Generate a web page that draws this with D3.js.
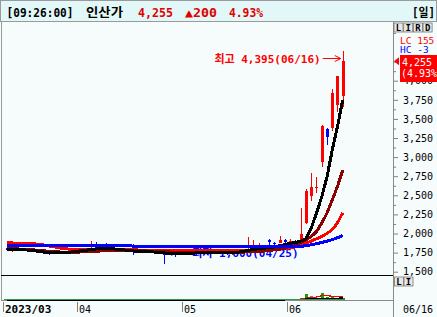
<!DOCTYPE html>
<html>
<head>
<meta charset="utf-8">
<script src="https://cdn.jsdelivr.net/npm/d3@7"></script>
<style>
  html, body { margin: 0; padding: 0; background: #fff; }
  svg { display: block; }
</style>
</head>
<body>
<div id="chart"></div>
<script>
// trading days shown (2023)
const dates = ["03/14","03/15","03/16","03/17","03/20","03/21","03/22","03/23","03/24","03/27","03/28","03/29","03/30","03/31",
  "04/03","04/04","04/05","04/06","04/07","04/10","04/11","04/12","04/13","04/14","04/17","04/18","04/19","04/20","04/21","04/24","04/25","04/26","04/27","04/28",
  "05/02","05/03","05/04","05/08","05/09","05/10","05/11","05/12","05/15","05/16","05/17","05/18","05/19","05/22","05/23","05/24","05/25","05/26","05/30","05/31",
  "06/01","06/02","06/05","06/07","06/08","06/09","06/12","06/13","06/14","06/15","06/16"];

const opens = [1815,1785,1800,1782,1788,1772,1768,1755,1742,1735,1752,1762,1755,1778,
  1790,1800,1808,1825,1800,1810,1795,1788,1780,1785,1790,1760,1768,1758,1752,1745,1740,1725,1748,1730,
  1742,1748,1745,1750,1755,1748,1752,1750,1745,1735,1748,1765,1778,1795,1805,1812,1920,1880,1876,1915,
  1890,1905,1890,2135,2495,2600,2940,3370,3380,3680,3800];
const highs = [1825,1812,1808,1795,1795,1785,1778,1765,1752,1758,1768,1772,1785,1798,
  1808,1815,1900,1885,1815,1880,1805,1798,1795,1798,1860,1775,1778,1770,1765,1760,1755,1752,1755,1748,
  1760,1762,1758,1765,1768,1760,1765,1762,1755,1752,1770,1785,1950,1915,1870,1835,1925,1895,1965,1930,
  1925,1915,2335,2580,2790,2740,3425,3380,3890,4060,4395];
const lows = [1785,1760,1772,1770,1765,1760,1748,1738,1725,1730,1745,1750,1752,1770,
  1782,1790,1800,1795,1788,1790,1780,1770,1765,1768,1715,1748,1752,1742,1738,1728,1600,1718,1690,1722,
  1735,1738,1735,1740,1742,1738,1745,1738,1725,1720,1742,1758,1772,1785,1795,1800,1840,1845,1870,1880,
  1875,1875,1880,2120,2420,2530,2875,3160,3340,3590,3650];
const closes = [1790,1805,1782,1788,1772,1768,1755,1742,1735,1752,1762,1755,1778,1790,
  1800,1808,1815,1800,1805,1795,1788,1780,1785,1775,1760,1768,1758,1752,1745,1740,1725,1748,1730,1742,
  1748,1745,1750,1755,1748,1752,1750,1745,1735,1748,1765,1778,1795,1805,1812,1820,1885,1860,1915,1895,
  1905,1890,1990,2560,2606,2615,3405,3265,3838,4055,4255];

// moving averages as drawn (5, 10, 20, 60 days)
const ma5 = [1795,1792,1790,1787,1783,1777,1768,1758,1752,1748,1750,1752,1756,1764,
  1772,1780,1790,1797,1802,1805,1800,1795,1788,1780,1772,1768,1765,1762,
  1758,1752,1745,1740,1738,1737,1740,1742,1745,1748,1750,1752,1750,1748,
  1745,1748,1755,1765,1780,1790,1800,1808,1815,1825,1840,1855,
  1872,1882,1900,1930,2070,2265,2480,2740,3090,3400,3750];
const ma10 = [1805,1802,1798,1794,1790,1786,1780,1774,1768,1762,1758,1756,1755,1756,
  1758,1761,1764,1768,1772,1776,1779,1781,1782,1781,1779,1776,1773,1770,
  1767,1764,1761,1758,1756,1754,1752,1751,1750,1750,1750,1751,1752,1753,
  1754,1755,1756,1757,1759,1762,1766,1771,1778,1786,1795,1805,
  1850,1860,1880,1915,1960,2025,2135,2265,2440,2615,2830];
const ma20 = [1878,1876,1874,1872,1870,1866,1860,1850,1838,1825,1812,1802,1795,1790,
  1787,1786,1786,1787,1788,1789,1790,1790,1789,1788,1786,1784,1782,1780,
  1779,1778,1777,1776,1775,1775,1774,1774,1773,1773,1772,1772,1772,1772,
  1772,1772,1773,1774,1775,1777,1779,1782,1786,1790,1796,1803,
  1812,1825,1845,1872,1900,1930,1960,2000,2050,2140,2270];
const ma60 = [1848,1848,1847,1847,1846,1846,1845,1845,1844,1844,1843,1843,1842,1842,
  1841,1841,1840,1840,1839,1839,1838,1838,1837,1837,1836,1836,1835,1835,
  1834,1834,1833,1833,1832,1832,1831,1831,1830,1830,1829,1829,1829,1828,
  1828,1828,1827,1827,1827,1826,1826,1826,1826,1826,1826,1826,
  1826,1828,1832,1840,1852,1866,1882,1900,1920,1945,1972];

// volume (thousand shares) and its averages
const volumes = [45,38,30,28,25,26,30,32,28,22,25,20,24,26,
  22,24,60,45,20,38,22,18,20,19,55,20,18,17,
  16,18,40,24,30,18,16,17,15,16,15,14,15,16,
  18,17,20,22,70,55,30,22,35,24,48,30,
  60,45,210,640,390,170,720,260,310,220,170];
const volMa5 = [40,38,36,34,33,30,28,28,29,27,26,25,24,23,
  23,23,30,33,34,36,37,30,24,22,27,27,26,21,
  20,18,22,23,26,26,25,21,19,16,16,16,15,15,
  16,16,17,19,29,37,39,40,42,37,32,32,
  39,41,79,197,269,291,426,436,370,336,336];
const volMa20 = [30,30,30,30,30,30,30,30,30,30,29,29,29,29,
  29,29,30,30,30,30,30,29,29,29,30,30,29,29,
  28,28,28,28,28,27,27,27,26,26,26,25,25,25,
  25,25,25,25,27,28,28,28,29,29,30,30,
  32,33,42,72,90,97,131,143,157,167,174];

const priceTicks = [1500,1750,2000,2250,2500,2750,3000,3250,3500,3750,4000];
const monthLabels = ["2023/03","04","05","06"];
const lcText = "LC 155", hcText = "HC -3";
const clockText = "[09:26:00]", stockName = "인산가", periodText = "[일]";

// ---------- layout ----------
const W = 437, H = 317;
const plot = { left: 2, right: 393, top: 22, bottom: 275 };
const volBox = { top: 276, bottom: 300 };
const emptySlots = 9;
const mono = "'DejaVu Sans Mono', 'Noto Sans CJK KR', monospace";
const fmt = d3.format(",");

const svg = d3.select("#chart").append("svg")
  .attr("width", W).attr("height", H)
  .style("font-family", mono);

svg.append("rect").attr("width", W).attr("height", H).attr("fill", "#f6fcfc");

// scales
const idx = d3.range(dates.length + emptySlots);
const x = d3.scaleBand().domain(idx).range([4.1, 4.1 + idx.length * 5.25]);
const cx = i => x(i) + x.bandwidth() / 2;
const y = d3.scaleLinear().domain([1500, 4000]).range([271.7, 80.7]);
const yv = d3.scaleLinear().domain([0, 2400]).range([volBox.bottom, volBox.top]);

// ---------- title bar ----------
const title = svg.append("g");
title.append("rect").attr("x", 0.5).attr("y", 0.5).attr("width", W - 1).attr("height", 21)
  .attr("fill", "#e2f8f8").attr("stroke", "#9a9a9a");
const last = closes.length - 1;
const diff = closes[last] - closes[last - 1];
const pct = (diff / closes[last - 1] * 100).toFixed(2);
const titleParts = [
  { t: clockText, x: 6.5, w: 67, c: "#000" },
  { t: stockName, x: 86, w: 37, c: "#000" },
  { t: fmt(closes[last]), x: 138, w: 35, c: "#e00000" },
  { t: "▲" + fmt(diff), x: 185, w: 32, c: "#e00000" },
  { t: pct + "%", x: 229, w: 34, c: "#e00000" },
  { t: periodText, x: 412, w: 23, c: "#000" }
];
title.selectAll("text").data(titleParts).join("text")
  .attr("x", d => d.x).attr("y", 16.5)
  .attr("textLength", d => d.w).attr("lengthAdjust", "spacingAndGlyphs")
  .attr("fill", d => d.c)
  .style("font-size", "12px").style("font-weight", "bold")
  .text(d => d.t);

// ---------- frame ----------
svg.append("line").attr("x1", 1.5).attr("x2", 1.5).attr("y1", 22).attr("y2", 301)
  .attr("stroke", "#9a9a9a");
svg.append("line").attr("x1", plot.right + 0.5).attr("x2", plot.right + 0.5).attr("y1", 22).attr("y2", H)
  .attr("stroke", "#8a8a8a");
svg.append("line").attr("x1", 1).attr("x2", plot.right).attr("y1", 275.5).attr("y2", 275.5)
  .attr("stroke", "#000");
svg.append("line").attr("x1", 1).attr("x2", plot.right).attr("y1", 300.5).attr("y2", 300.5)
  .attr("stroke", "#8a8a8a");

svg.append("clipPath").attr("id", "pclip").append("rect")
  .attr("x", plot.left).attr("y", plot.top + 1).attr("width", plot.right - plot.left).attr("height", plot.bottom - plot.top - 1);

// ---------- right price axis ----------
const minorTicks = d3.range(1375, 4700, 125).filter(v => !priceTicks.includes(v));
svg.append("g").attr("transform", `translate(${plot.right},0)`)
  .call(d3.axisRight(y).tickValues(minorTicks).tickSize(3).tickFormat(""))
  .call(g => g.select(".domain").remove())
  .call(g => g.selectAll("line").attr("stroke", "#808080"));
const yAxis = svg.append("g").attr("transform", `translate(${plot.right},0)`)
  .call(d3.axisRight(y).tickValues(priceTicks).tickSize(5).tickPadding(5).tickFormat(fmt))
  .call(g => g.select(".domain").remove());
yAxis.selectAll("line").attr("stroke", "#808080");
yAxis.selectAll("text").attr("fill", "#000").style("font-family", mono).style("font-size", "10px");

// ---------- x axis ----------
const monthStarts = dates.map((d, i) => i).filter(i => i === 0 || dates[i].slice(0, 2) !== dates[i - 1].slice(0, 2));
const xAxis = svg.append("g");
xAxis.selectAll("line").data(monthStarts).join("line")
  .attr("x1", i => Math.round(x(i)) - 0.5).attr("x2", i => Math.round(x(i)) - 0.5)
  .attr("y1", 302).attr("y2", 312).attr("stroke", "#808080");
xAxis.selectAll("text").data(monthStarts).join("text")
  .attr("x", i => Math.round(x(i)) + 1).attr("y", 313)
  .style("font-size", (d, k) => k === 0 ? "11px" : "10px")
  .style("font-weight", (d, k) => k === 0 ? "bold" : "normal")
  .attr("fill", "#000")
  .text((d, k) => monthLabels[k]);
svg.append("text").attr("x", 433).attr("y", 313).attr("text-anchor", "end")
  .style("font-size", "10px").attr("fill", "#000").text(dates[last]);

// ---------- price panel ----------
const pricePanel = svg.append("g").attr("clip-path", "url(#pclip)");

// low annotation (sits under the lines)
const lowIdx = d3.minIndex(lows), highIdx = d3.maxIndex(highs);
const lowG = pricePanel.append("g").attr("fill", "#0000ff").attr("stroke", "#0000ff");
lowG.append("line").attr("x1", cx(lowIdx) + 3).attr("x2", cx(lowIdx) + 26)
  .attr("y1", 253).attr("y2", 253).attr("stroke-width", 1);
lowG.append("path").attr("d", `M${cx(lowIdx) + 3},253 l5,-3 v6 z`).attr("stroke", "none");
lowG.append("text").attr("x", cx(lowIdx) + 28).attr("y", 257).attr("stroke", "none")
  .style("font-size", "11px").style("font-weight", "bold")
  .text(`최저 ${fmt(lows[lowIdx])}(${dates[lowIdx]})`);

// candles
const candles = pricePanel.append("g").selectAll("g").data(dates.map((d, i) => i)).join("g")
  .attr("shape-rendering", "crispEdges")
  .attr("fill", i => closes[i] >= opens[i] ? "#ff0000" : "#0000ff")
  .attr("stroke", i => closes[i] >= opens[i] ? "#ff0000" : "#0000ff");
candles.append("line")
  .attr("x1", i => Math.round(cx(i)) + 0.5).attr("x2", i => Math.round(cx(i)) + 0.5)
  .attr("y1", i => y(highs[i])).attr("y2", i => y(lows[i]));
candles.append("rect").attr("stroke", "none")
  .attr("x", i => Math.round(cx(i)) - 1).attr("width", 3)
  .attr("y", i => y(Math.max(opens[i], closes[i])))
  .attr("height", i => Math.max(1, Math.abs(y(opens[i]) - y(closes[i]))));

// moving averages
const maLine = d3.line().x((d, i) => cx(i)).y(d => y(d));
const maSeries = [
  { v: ma20, c: "#ff0000" },
  { v: ma10, c: "#8b0000" },
  { v: ma5, c: "#000000" },
  { v: ma60, c: "#0000ff" }
];
pricePanel.append("g").selectAll("path").data(maSeries).join("path")
  .attr("d", d => maLine(d.v)).attr("fill", "none")
  .attr("stroke", d => d.c).attr("stroke-width", 3)
  .attr("stroke-linejoin", "round").attr("shape-rendering", "crispEdges");

// high annotation
const hy = y(highs[highIdx]) + 8;
const hiG = svg.append("g").attr("fill", "#ff0000").attr("stroke", "#ff0000");
hiG.append("text").attr("x", cx(highIdx) - 22).attr("y", hy + 4).attr("text-anchor", "end").attr("stroke", "none")
  .style("font-size", "11px").style("font-weight", "bold")
  .text(`최고 ${fmt(highs[highIdx])}(${dates[highIdx]})`);
hiG.append("line").attr("x1", cx(highIdx) - 20).attr("x2", cx(highIdx) - 2)
  .attr("y1", hy).attr("y2", hy);
hiG.append("path").attr("d", `M${cx(highIdx) - 2},${hy} l-6,-3 M${cx(highIdx) - 2},${hy} l-6,3`).attr("fill", "none");

// ---------- right side labels ----------
svg.append("rect").attr("x", 394).attr("y", 34).attr("width", 43).attr("height", 20).attr("fill", "#f6fcfc");
svg.append("text").attr("x", 400).attr("y", 43.5).attr("fill", "#ff0000").style("font-size", "9.5px").text(lcText);
svg.append("text").attr("x", 400).attr("y", 53).attr("fill", "#0000ff").style("font-size", "9.5px").text(hcText);
const py = y(closes[last]);
svg.append("path").attr("d", `M394,${py} L399,${py - 4} L399,${py + 4} Z`).attr("fill", "#ff0000");
svg.append("rect").attr("x", 400).attr("y", 55).attr("width", 37).attr("height", 27).attr("fill", "#ff0000");
svg.append("text").attr("x", 402).attr("y", 65.5).attr("fill", "#fff").style("font-size", "10px").text(fmt(closes[last]));
svg.append("text").attr("x", 401).attr("y", 77).attr("fill", "#fff").style("font-size", "10px").text(`(${pct}%`);

// top-right buttons
const btnTop = ["L", "I", "R", "D"];
const bt = svg.append("g").selectAll("g").data(btnTop).join("g")
  .attr("transform", (d, k) => `translate(${394 + k * 9.7},23)`);
bt.append("rect").attr("width", 9).attr("height", 9).attr("fill", "#e8e8e8").attr("stroke", "#777").attr("stroke-width", 0.8);
bt.append("text").attr("x", 4.5).attr("y", 8).attr("text-anchor", "middle")
  .style("font-size", "9px").style("font-weight", "bold").text(d => d);
const bb = svg.append("g").selectAll("g").data(["L", "I"]).join("g")
  .attr("transform", (d, k) => `translate(${394.5 + k * 9.5},277)`);
bb.append("rect").attr("width", 9).attr("height", 9).attr("fill", "#e8e8e8").attr("stroke", "#777").attr("stroke-width", 0.8);
bb.append("text").attr("x", 4.5).attr("y", 8).attr("text-anchor", "middle")
  .style("font-size", "9px").style("font-weight", "bold").text(d => d);

// ---------- volume panel ----------
const volG = svg.append("g").attr("shape-rendering", "crispEdges");
volG.selectAll("rect").data(dates.map((d, i) => i)).join("rect")
  .attr("x", i => Math.round(cx(i)) - 1).attr("width", 3)
  .attr("y", i => yv(volumes[i])).attr("height", i => volBox.bottom - yv(volumes[i]))
  .attr("fill", i => i === 58 ? "#3a9a9a" : "#12a012");
const vLine = d3.line().x((d, i) => cx(i)).y(d => yv(d));
volG.append("path").attr("d", vLine(volMa5)).attr("fill", "none").attr("stroke", "#ff0000").attr("stroke-width", 1.2);
volG.append("path").attr("d", vLine(volMa20)).attr("fill", "none").attr("stroke", "#000").attr("stroke-width", 1.6);
volG.append("line").attr("x1", x(0)).attr("x2", cx(last) + 1.5).attr("y1", 299.5).attr("y2", 299.5)
  .attr("stroke", "#2a9a4a").attr("stroke-width", 1);
</script>
</body>
</html>
